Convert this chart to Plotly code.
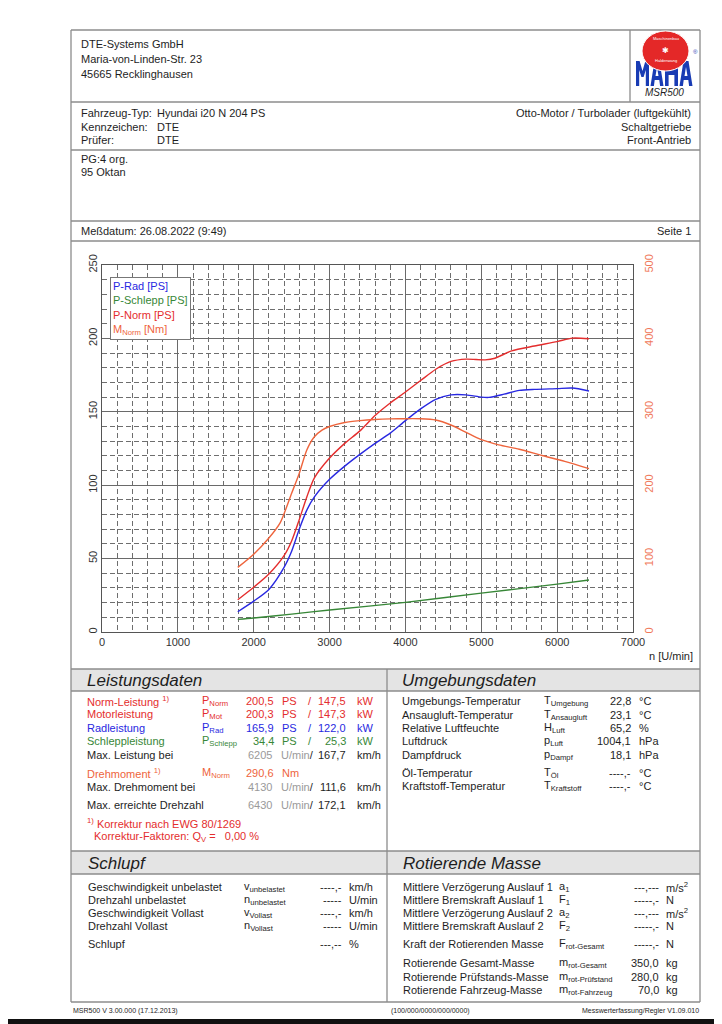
import plotly.graph_objects as go

W, H = 722, 1024          # page size (browser window)
OFF = 8                   # default body margin of the html page
FW, FH = W - OFF, H - OFF # figure size so that it fits the window
FONT = "Liberation Sans, Arial, sans-serif"

# ---------------- data ----------------
rpm_rad = [1790, 2000, 2200, 2400, 2500, 2600, 2700, 2800, 3000, 3200, 3400, 3600, 3800,
           4000, 4200, 4400, 4600, 4800, 5000, 5100, 5300, 5500, 5700, 6000, 6200, 6420]
p_rad = [13.8, 21, 29, 44, 55, 70, 83, 92, 104, 113, 121, 128.5, 135.5,
         144, 152, 158.5, 161.5, 161.5, 160, 159.8, 162, 164.6, 165.3, 165.8, 166.2, 164.2]

rpm_norm = [1790, 2000, 2200, 2400, 2500, 2600, 2700, 2800, 3000, 3200, 3400, 3600, 3800,
            4000, 4200, 4400, 4600, 4800, 5050, 5180, 5400, 5700, 6000, 6200, 6420]
p_norm = [22, 30.5, 39.5, 52, 62, 76.5, 92, 105, 118.5, 128.5, 137, 147.5, 156,
          163.5, 171.3, 179, 184.3, 185.9, 185.4, 186.5, 191.5, 194.8, 197.8, 200.2, 199.8]

rpm_schlepp = [1790, 2000, 2500, 3000, 4000, 5000, 6000, 6420]
p_schlepp = [8.6, 9.5, 12.2, 15, 20.2, 26.5, 32.6, 35.4]

rpm_m = [1790, 2000, 2200, 2350, 2500, 2600, 2700, 2800, 2900, 3000, 3200, 3400, 3600, 3800,
         4000, 4200, 4400, 4600, 4800, 5000, 5230, 5500, 5800, 6100, 6420]
m_norm = [88, 106, 128, 149, 189, 216, 248, 266, 275, 280, 285.5, 288, 289.5, 290.3,
          290.6, 290.5, 288.8, 282, 272, 262, 255, 249, 240.5, 232.5, 222.5]

x_ticks = [0, 1000, 2000, 3000, 4000, 5000, 6000, 7000]
y_ticks = [0, 50, 100, 150, 200, 250]
y2_ticks = [0, 100, 200, 300, 400, 500]

C_RAD = "rgb(40,40,225)"
C_SCH = "rgb(55,135,55)"
C_NORM = "rgb(228,45,45)"
C_M = "rgb(238,100,60)"
C_M_AX = "rgb(240,120,90)"
GRAY_TXT = "#9a9a9a"
TXT = "#1e1e1e"
LOGO_BLUE = "rgb(25,60,180)"
LOGO_RED = "rgb(228,40,40)"

# ---------------- figure ----------------
fig = go.Figure()
ln = dict(width=1.4, shape="spline", smoothing=0.7)
fig.add_trace(go.Scatter(x=rpm_schlepp, y=p_schlepp, mode="lines", line=dict(color=C_SCH, **ln), hoverinfo="skip"))
fig.add_trace(go.Scatter(x=rpm_rad, y=p_rad, mode="lines", line=dict(color=C_RAD, **ln), hoverinfo="skip"))
fig.add_trace(go.Scatter(x=rpm_norm, y=p_norm, mode="lines", line=dict(color=C_NORM, **ln), hoverinfo="skip"))
fig.add_trace(go.Scatter(x=rpm_m, y=m_norm, mode="lines", line=dict(color=C_M, **ln), yaxis="y2", hoverinfo="skip"))


def fx(x):
    return (x - OFF) / FW


def fy(y):
    return 1 - (y - OFF) / FH


ann = []
shapes = []


def T(x, y, s, anchor="left", size=11, color=TXT, yanchor="middle", family=FONT, **kw):
    ann.append(dict(x=fx(x), y=fy(y), xref="paper", yref="paper", text=s, showarrow=False,
                    xanchor=anchor, yanchor=yanchor, borderpad=0,
                    font=dict(size=size, color=color, family=family), **kw))


def L(x0, y0, x1, y1, color="#8c8c8c", w=1.3):
    shapes.append(dict(type="line", xref="paper", yref="paper", x0=fx(x0), y0=fy(y0),
                       x1=fx(x1), y1=fy(y1), line=dict(color=color, width=w), layer="above"))


def R(x0, y0, x1, y1, fill, color="rgba(0,0,0,0)", w=0, layer="below"):
    shapes.append(dict(type="rect", xref="paper", yref="paper", x0=fx(x0), y0=fy(y0),
                       x1=fx(x1), y1=fy(y1), fillcolor=fill, line=dict(color=color, width=w), layer=layer))


def P(polys, fill):
    d = ""
    for poly in polys:
        d += "M " + " L ".join(f"{fx(x):.5f},{fy(y):.5f}" for x, y in poly) + " Z "
    shapes.append(dict(type="path", xref="paper", yref="paper", path=d, fillcolor=fill,
                       line=dict(width=0), layer="above"))


XL, XR = 71, 700
# page frame
L(XL, 30, XR, 30)
L(XL, 30, XL, 1002)
L(XR, 30, XR, 1002)
for yy in (102, 150, 221, 241, 669, 691, 851, 874, 1002):
    L(XL, yy, XR, yy)
L(630, 30, 630, 102)
L(387, 669, 387, 1002)
R(XL, 669, XR, 691, "#e4e4e4")
R(XL, 851, XR, 874, "#e4e4e4")
R(OFF, 1019, W, 1024, "#111111")

# header texts
T(80, 44, "DTE-Systems GmbH")
T(80, 59, "Maria-von-Linden-Str. 23")
T(80, 74, "45665 Recklinghausen")
T(80, 113, "Fahrzeug-Typ:")
T(80, 127, "Kennzeichen:")
T(80, 140, "Prüfer:")
T(156, 113, "Hyundai i20 N 204 PS")
T(156, 127, "DTE")
T(156, 140, "DTE")
T(692, 113, "Otto-Motor / Turbolader (luftgekühlt)", anchor="right")
T(692, 127, "Schaltgetriebe", anchor="right")
T(692, 140, "Front-Antrieb", anchor="right")
T(80, 159, "PG:4 org.")
T(80, 172, "95 Oktan")
T(80, 231, "Meßdatum: 26.08.2022 (9:49)")
T(692, 231, "Seite 1", anchor="right")

# logo: block letters "MAHA" + red emblem
t, b = 61, 86
def letter_M(x):
    return [[(x, b), (x, t), (x + 3.6, t), (x + 6.5, t + 10), (x + 9.4, t), (x + 13, t), (x + 13, b),
             (x + 9.8, b), (x + 9.8, t + 9), (x + 7.6, t + 16), (x + 5.4, t + 16), (x + 3.2, t + 9), (x + 3.2, b)]]
def letter_A(x):
    return [[(x, b), (x + 4, t), (x + 9, t), (x + 13, b), (x + 9.6, b), (x + 8.8, b - 6), (x + 4.2, b - 6), (x + 3.4, b)],
            [(x + 5, b - 10), (x + 8, b - 10), (x + 6.5, t + 6)]]
def letter_H(x):
    return [[(x, b), (x, t), (x + 3.6, t), (x + 3.6, t + 9), (x + 9.4, t + 9), (x + 9.4, t), (x + 13, t), (x + 13, b),
             (x + 9.4, b), (x + 9.4, t + 14), (x + 3.6, t + 14), (x + 3.6, b)]]
P(letter_M(636) + letter_A(650.5) + letter_H(665) + letter_A(679.5), LOGO_BLUE)
shapes.append(dict(type="circle", xref="paper", yref="paper", x0=fx(642), x1=fx(689), y0=fy(31), y1=fy(71),
                   fillcolor=LOGO_RED, line=dict(color="white", width=1), layer="above"))
T(665.5, 39, "Maschinenbau", anchor="center", size=4, color="white")
T(665.5, 50, "✱", anchor="center", size=8, color="white")
T(665.5, 60, "Haldenwang", anchor="center", size=4, color="white")
T(692, 52, "®", anchor="left", size=6, color=LOGO_BLUE)
T(664, 93, "<i>MSR500</i>", anchor="center", size=10)

# chart extras
T(694, 656, "n [U/min]", anchor="right")
ann.append(dict(x=fx(110), y=fy(277), xref="paper", yref="paper", showarrow=False, xanchor="left", yanchor="top",
                align="left", bgcolor="white", bordercolor="#777", borderwidth=1, borderpad=2,
                text=(f"<span style='color:{C_RAD}'>P-Rad [PS]</span><br>"
                      f"<span style='color:{C_SCH}'>P-Schlepp [PS]</span><br>"
                      f"<span style='color:{C_NORM}'>P-Norm [PS]</span><br>"
                      f"<span style='color:{C_M}'>M<sub>Norm</sub> [Nm]</span>"),
                font=dict(size=11, family=FONT, color=TXT)))

# Leistungsdaten
T(86, 680, "<i>Leistungsdaten</i>", size=17)
rows_l = [701, 714.3, 727.7, 741.3, 755, 773.3, 786.7, 805, 823.3, 837.3]
RED = C_NORM
T(86, rows_l[0], "Norm-Leistung <sup>1)</sup>", color=RED)
T(86, rows_l[1], "Motorleistung", color=RED)
T(86, rows_l[2], "Radleistung", color=C_RAD)
T(86, rows_l[3], "Schleppleistung", color=C_SCH)
T(86, rows_l[4], "Max. Leistung bei")
T(86, rows_l[5], "Drehmoment <sup>1)</sup>", color=C_M)
T(86, rows_l[6], "Max. Drehmoment bei")
T(86, rows_l[7], "Max. erreichte Drehzahl")
T(86, rows_l[8], "<sup>1)</sup> Korrektur nach EWG 80/1269", color=RED)
T(93, rows_l[9], "Korrektur-Faktoren: Q<sub>V</sub> =   0,00 %", color=RED)
syms = [("P<sub>Norm</sub>", RED), ("P<sub>Mot</sub>", RED), ("P<sub>Rad</sub>", C_RAD), ("P<sub>Schlepp</sub>", C_SCH)]
ps_vals = ["200,5", "200,3", "165,9", "34,4"]
kw_vals = ["147,5", "147,3", "122,0", "25,3"]
for i, (s, c) in enumerate(syms):
    T(201, rows_l[i], s, color=c)
    T(275, rows_l[i], ps_vals[i], anchor="right", color=c)
    T(281, rows_l[i], "PS", color=c)
    T(310, rows_l[i], "/", anchor="center", color=c)
    T(347, rows_l[i], kw_vals[i], anchor="right", color=c)
    T(356, rows_l[i], "kW", color=c)
T(201, rows_l[5], "M<sub>Norm</sub>", color=C_M)
T(275, rows_l[5], "290,6", anchor="right", color=C_M)
T(281, rows_l[5], "Nm", color=C_M)
for r, n, v in ((rows_l[4], "6205", "167,7"), (rows_l[6], "4130", "111,6"), (rows_l[7], "6430", "172,1")):
    T(273, r, n, anchor="right", color=GRAY_TXT)
    T(280, r, f"<span style='color:{GRAY_TXT}'>U/min</span>/")
    T(347, r, v, anchor="right")
    T(356, r, "km/h")

# Umgebungsdaten
T(401, 680, "<i>Umgebungsdaten</i>", size=17)
rows_u = [701, 714.7, 728, 741.3, 754.7, 773.3, 786]
u_lab = ["Umgebungs-Temperatur", "Ansaugluft-Temperatur", "Relative Luftfeuchte", "Luftdruck", "Dampfdruck",
         "Öl-Temperatur", "Kraftstoff-Temperatur"]
u_sym = ["T<sub>Umgebung</sub>", "T<sub>Ansaugluft</sub>", "H<sub>Luft</sub>", "p<sub>Luft</sub>",
         "p<sub>Dampf</sub>", "T<sub>Öl</sub>", "T<sub>Kraftstoff</sub>"]
u_val = ["22,8", "23,1", "65,2", "1004,1", "18,1", "----,-", "----,-"]
u_unit = ["°C", "°C", "%", "hPa", "hPa", "°C", "°C"]
for r, a, b_, c, d in zip(rows_u, u_lab, u_sym, u_val, u_unit):
    T(401, r, a)
    T(543, r, b_)
    T(632, r, c, anchor="right")
    T(638, r, d)

# Schlupf
T(87, 863, "<i>Schlupf</i>", size=17)
rows_s = [887.3, 900.3, 913.3, 926.3, 944.3]
s_lab = ["Geschwindigkeit unbelastet", "Drehzahl unbelastet", "Geschwindigkeit Vollast", "Drehzahl Vollast", "Schlupf"]
s_sym = ["v<sub>unbelastet</sub>", "n<sub>unbelastet</sub>", "v<sub>Vollast</sub>", "n<sub>Vollast</sub>", ""]
s_val = ["----,-", "-----", "----,-", "-----", "---,--"]
s_unit = ["km/h", "U/min", "km/h", "U/min", "%"]
for r, a, b_, c, d in zip(rows_s, s_lab, s_sym, s_val, s_unit):
    T(87, r, a)
    if b_:
        T(243, r, b_)
    T(343, r, c, anchor="right")
    T(348, r, d)

# Rotierende Masse
T(402, 863, "<i>Rotierende Masse</i>", size=17)
rows_r = [887.3, 900.3, 913.3, 926.3, 944.3, 963.3, 976.7, 990]
r_lab = ["Mittlere Verzögerung Auslauf 1", "Mittlere Bremskraft Auslauf 1", "Mittlere Verzögerung Auslauf 2",
         "Mittlere Bremskraft Auslauf 2", "Kraft der Rotierenden Masse", "Rotierende Gesamt-Masse",
         "Rotierende Prüfstands-Masse", "Rotierende Fahrzeug-Masse"]
r_sym = ["a<sub>1</sub>", "F<sub>1</sub>", "a<sub>2</sub>", "F<sub>2</sub>", "F<sub>rot-Gesamt</sub>",
         "m<sub>rot-Gesamt</sub>", "m<sub>rot-Prüfstand</sub>", "m<sub>rot-Fahrzeug</sub>"]
r_val = ["---,---", "-----,-", "---,---", "-----,-", "-----,-", "350,0", "280,0", "70,0"]
r_unit = ["m/s<sup>2</sup>", "N", "m/s<sup>2</sup>", "N", "N", "kg", "kg", "kg"]
for r, a, b_, c, d in zip(rows_r, r_lab, r_sym, r_val, r_unit):
    T(402, r, a)
    T(558, r, b_)
    T(660, r, c, anchor="right")
    T(665, r, d)

# footer
T(72, 1011, "MSR500 V 3.00.000 (17.12.2013)", size=7)
T(430, 1011, "(100/000/0000/000/0000)", anchor="center", size=7)
T(700, 1011, "Messwerterfassung/Regler V1.09.010", anchor="right", size=7)

GRID = "#6a6a6a"
MINOR = "#6e6e6e"
fig.update_layout(
    width=FW, height=FH, autosize=False,
    margin=dict(l=0, r=0, t=0, b=0),
    paper_bgcolor="white", plot_bgcolor="white",
    showlegend=False,
    font=dict(family=FONT, size=11, color=TXT),
    annotations=ann, shapes=shapes,
    xaxis=dict(domain=[fx(102), fx(633)], range=[0, 7000], tickvals=x_ticks,
               showgrid=True, gridcolor=GRID, gridwidth=1, zeroline=False,
               showline=True, mirror=True, linecolor="#555", linewidth=1,
               ticks="", tickfont=dict(size=11, color="#333"), automargin=False,
               minor=dict(dtick=200, showgrid=True, gridcolor=MINOR, griddash="5px,3px", gridwidth=1)),
    yaxis=dict(domain=[fy(632), fy(265)], range=[0, 250], tickvals=y_ticks, tickangle=-90,
               showgrid=True, gridcolor=GRID, gridwidth=1, zeroline=False,
               showline=True, mirror=True, linecolor="#555", linewidth=1,
               ticks="", tickfont=dict(size=11, color="#333"), automargin=False,
               minor=dict(dtick=10, showgrid=True, gridcolor=MINOR, griddash="5px,3px", gridwidth=1)),
    yaxis2=dict(overlaying="y", side="right", range=[0, 500], tickvals=y2_ticks, tickangle=-90,
                showgrid=False, zeroline=False, showline=False, ticks="", ticklabelstandoff=8,
                tickfont=dict(size=11, color=C_M_AX), automargin=False),
)

fig.write_html("out.html")
